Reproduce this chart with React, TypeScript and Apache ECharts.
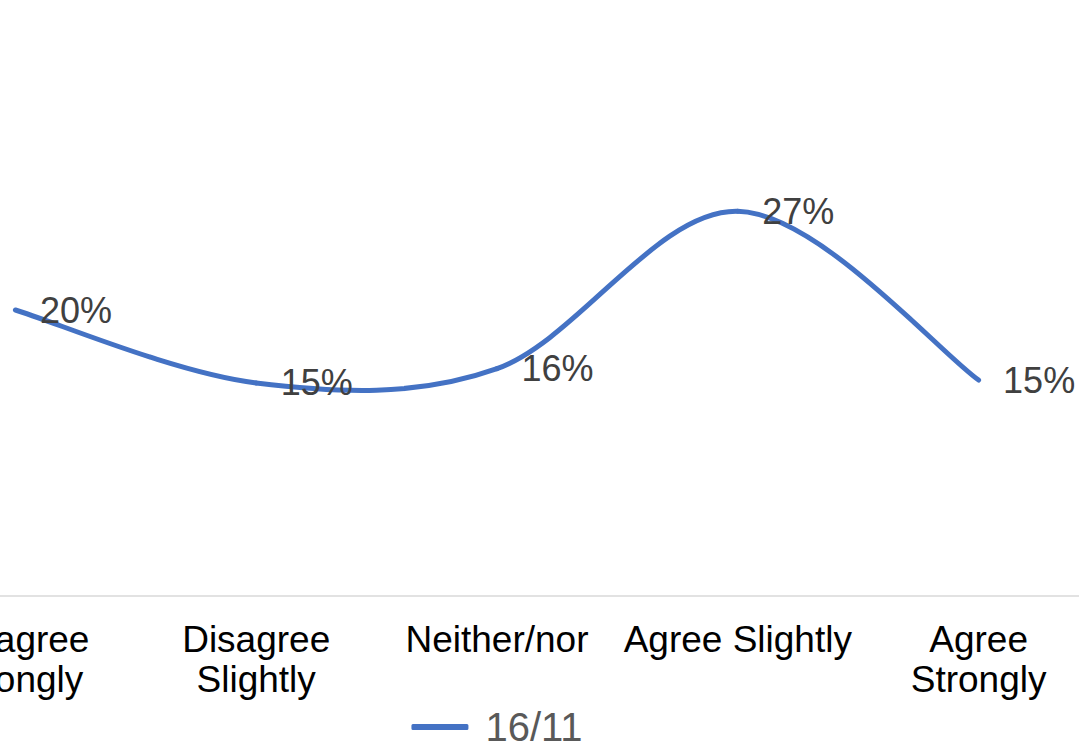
import React, { useEffect, useRef } from "react";
import * as echarts from "echarts";

const categories = ["Disagree\nStrongly", "Disagree\nSlightly", "Neither/nor", "Agree Slightly", "Agree\nStrongly"];
const seriesName = "16/11";
const values = [0.2, 0.149, 0.159, 0.269, 0.151];

export default function App() {
  const ref = useRef<HTMLDivElement>(null);
  useEffect(() => {
    if (!ref.current) return;
    const chart = echarts.init(ref.current, null, { renderer: "svg" });
    const n = values.length;
    chart.setOption({
      animation: false,
      textStyle: { fontFamily: "Liberation Sans, Arial, sans-serif" },
      grid: { left: 0, right: 0, top: 24, bottom: 151, containLabel: false },
      legend: {
        show: true,
        left: "center",
        top: 702,
        icon: "roundRect",
        itemWidth: 57,
        itemHeight: 6,
        textStyle: { fontSize: 40, color: "#595959", lineHeight: 40, padding: [0, 0, 0, 12] },
        data: [{ name: seriesName, itemStyle: { color: "#4472C4" } }],
      },
      xAxis: {
        type: "category",
        data: categories,
        boundaryGap: true,
        axisLine: { show: true, lineStyle: { color: "#d9d9d9", width: 1.5 } },
        axisTick: { show: false },
        axisLabel: { interval: 0, fontSize: 37, lineHeight: 40, color: "#000", margin: 23 },
      },
      yAxis: {
        type: "value",
        min: 0,
        max: 0.4,
        show: false,
        splitLine: { show: false },
      },
      series: [
        {
          name: "curve",
          type: "custom",
          data: values.map((v, i) => [i, v]),
          encode: { x: 0, y: 1 },
          z: 2,
          renderItem: (params: any, api: any) => {
            const i = params.dataIndex;
            if (i >= n - 1) return null;
            const pt = (k: number) => {
              const kk = Math.max(0, Math.min(n - 1, k));
              return api.coord([kk, values[kk]]);
            };
            const p0 = pt(i - 1);
            const p1 = pt(i);
            const p2 = pt(i + 1);
            const p3 = pt(i + 2);
            const c1 = [p1[0] + (p2[0] - p0[0]) / 6, p1[1] + (p2[1] - p0[1]) / 6];
            const c2 = [p2[0] - (p3[0] - p1[0]) / 6, p2[1] - (p3[1] - p1[1]) / 6];
            const d = `M${p1[0]},${p1[1]} C${c1[0]},${c1[1]} ${c2[0]},${c2[1]} ${p2[0]},${p2[1]}`;
            return {
              type: "path",
              shape: { pathData: d },
              style: { fill: "none", stroke: "#4472C4", lineWidth: 5, lineCap: "round" },
            };
          },
        },
        {
          name: seriesName,
          type: "line",
          data: values,
          z: 3,
          symbol: "circle",
          symbolSize: 1,
          itemStyle: { color: "rgba(68,114,196,0)" },
          lineStyle: { color: "#4472C4", width: 5, opacity: 0 },
          label: {
            show: true,
            position: "right",
            distance: 24,
            fontSize: 36,
            color: "#404040",
            formatter: (p: any) => Math.round(p.value * 100) + "%",
          },
        },
      ],
    });
    return () => chart.dispose();
  }, []);
  return (
    <div
      ref={ref}
      style={{ position: "fixed", left: -105, top: 0, width: 1204, height: 747, background: "#fff" }}
    />
  );
}
